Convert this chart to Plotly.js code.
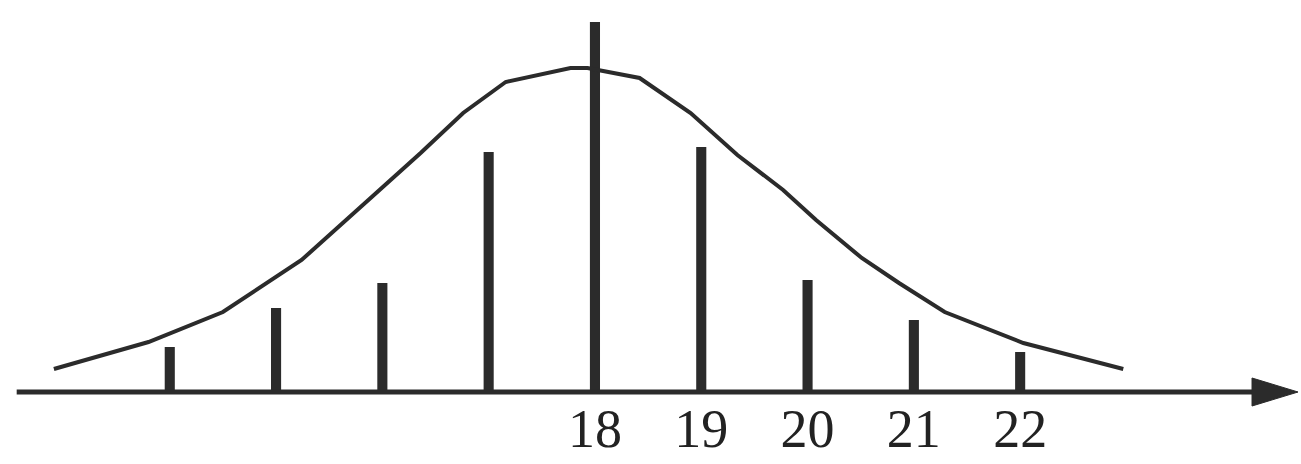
<!DOCTYPE html>
<html>
<head>
<meta charset="utf-8">
<script src="https://cdn.plot.ly/plotly-3.0.1.min.js"></script>
<style>html,body{margin:0;padding:0;background:#fff;}#chart{width:1301px;height:464px;}</style>
</head>
<body>
<div id="chart"></div>
<script>
// Bars (x value, relative height)
var barX = [14, 15, 16, 17, 18, 19, 20, 21, 22];
var barH = [0.45, 0.84, 1.09, 2.40, 3.70, 2.45, 1.12, 0.72, 0.40];

// Smooth curve
var curveX = [12.91, 13.80, 14.50, 15.24, 15.90, 16.36, 16.76, 17.16, 17.77, 17.93, 18.42, 18.90, 19.34, 19.77, 20.08, 20.51, 20.86, 21.29, 22.03, 22.97];
var curveY = [0.23, 0.50, 0.80, 1.32, 1.95, 2.39, 2.79, 3.10, 3.24, 3.24, 3.14, 2.79, 2.37, 2.02, 1.72, 1.34, 1.09, 0.80, 0.49, 0.23];

// Tick labels
var tickVals = [18, 19, 20, 21, 22];
var tickText = ['18', '19', '20', '21', '22'];

var ink = '#2b2b2b';
var xRange = [12.403, 24.642];
var axisStart = 12.56, axisEnd = 24.21, arrowTip = 24.614;

var traces = [
  {
    type: 'bar', x: barX, y: barH, width: 0.095,
    marker: {color: ink, line: {width: 0}},
    hoverinfo: 'skip', showlegend: false
  },
  {
    type: 'scatter', mode: 'lines', x: curveX, y: curveY,
    line: {color: ink, width: 4},
    hoverinfo: 'skip', showlegend: false
  }
];

var layout = {
  width: 1301, height: 464,
  margin: {l: 0, r: 0, t: 0, b: 0},
  paper_bgcolor: '#fff', plot_bgcolor: '#fff',
  showlegend: false,
  xaxis: {
    range: xRange, showgrid: false, zeroline: false, showline: false,
    anchor: 'free', position: 72 / 464,
    tickvals: tickVals, ticktext: tickText, ticks: '',
    ticklabelstandoff: 0,
    tickfont: {family: '"Liberation Serif", "DejaVu Serif", serif', size: 54, color: '#222'},
    fixedrange: true
  },
  yaxis: {
    range: [-0.72, 3.92], showgrid: false, zeroline: false, showline: false,
    showticklabels: false, ticks: '', fixedrange: true
  },
  shapes: [
    {type: 'line', xref: 'x', yref: 'y', x0: axisStart, x1: axisEnd, y0: 0, y1: 0,
     line: {color: ink, width: 5}, layer: 'above'},
    {type: 'path', xref: 'x', yref: 'y', xsizemode: 'pixel', ysizemode: 'pixel',
     xanchor: arrowTip, yanchor: 0,
     path: 'M0,0 L-46,14 L-46,-14 Z',
     fillcolor: ink, line: {color: ink, width: 1}, layer: 'above'}
  ]
};

Plotly.newPlot('chart', traces, layout, {displayModeBar: false, staticPlot: true});
</script>
</body>
</html>
